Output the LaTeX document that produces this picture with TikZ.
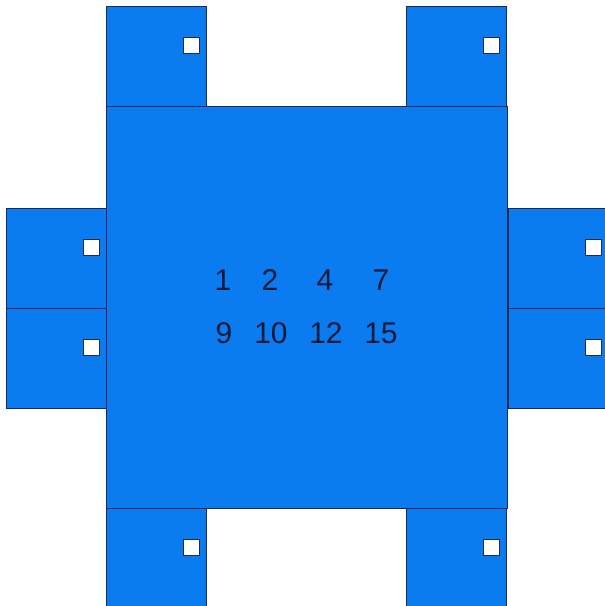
\documentclass[tikz,border=0pt]{standalone}
\usepackage{fontspec}
\setmainfont{Liberation Sans}
\definecolor{panelblue}{HTML}{0A7CF0}
\definecolor{edgenavy}{HTML}{1B2B55}
\definecolor{textnavy}{HTML}{0C1A3A}
\begin{document}
\begin{tikzpicture}[x=1pt,y=-1pt,
  panel/.style={fill=panelblue,draw=edgenavy,line width=0.9pt},
  knob/.style={fill=white,draw=edgenavy,line width=0.9pt},
  num/.style={text=textnavy,font=\fontsize{30}{36}\selectfont,anchor=base,inner sep=0pt}]
\useasboundingbox (0,0) rectangle (605,606);
\clip (0,0) rectangle (605,606);
% tabs
\foreach \x/\y in {106/6,406/6,6/208,6/308,508/208,508/308,106/508,406/508}{
  \draw[panel] (\x,\y) rectangle ++(100,100);
  \draw[knob] (\x+77,\y+31) rectangle ++(16,16);
}
% central square
\draw[panel] (106,106) rectangle (507,508);
% numbers
\node[num] (n1) at (223,290) {1};
\node[num] (n2) at (270,290) {2};
\node[num] (n4) at (325,290) {4};
\node[num] (n7) at (381,290) {7};
\node[num] (n9) at (224,343) {9};
\node[num] (n10) at (271,343) {10};
\node[num] (n12) at (326,343) {12};
\node[num] (n15) at (381,343) {15};
\end{tikzpicture}
\end{document}
